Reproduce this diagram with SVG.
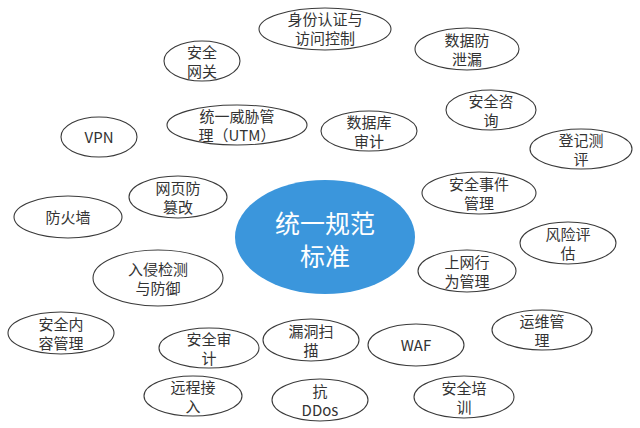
<svg xmlns="http://www.w3.org/2000/svg" width="640" height="428" viewBox="0 0 640 428">
<style>
.n ellipse{fill:#fff;stroke:#3a3a3a;stroke-width:1.1}
.n text{font-family:"Noto Sans CJK SC","Noto Sans",sans-serif;font-size:15px;fill:#333;text-anchor:middle}
.c ellipse{fill:#3b96dc;stroke:none}
.c text{font-family:"Noto Sans CJK SC","Noto Sans",sans-serif;font-size:25px;fill:#fff;text-anchor:middle}
</style>
<rect width="640" height="428" fill="#fff"/>
<g id="connectors"></g>
<g id="center" class="c"><ellipse cx="325" cy="237" rx="90" ry="57"/><text x="325" y="233">统一规范</text><text x="325" y="266">标准</text></g>
<g id="n1" class="n"><ellipse cx="325" cy="29" rx="66" ry="21"/><text x="325" y="25">身份认证与</text><text x="325" y="44">访问控制</text></g>
<g id="n2" class="n"><ellipse cx="202" cy="61" rx="38" ry="20"/><text x="202" y="58">安全</text><text x="202" y="77">网关</text></g>
<g id="n3" class="n"><ellipse cx="467" cy="49" rx="52" ry="21"/><text x="467" y="46">数据防</text><text x="467" y="65">泄漏</text></g>
<g id="n4" class="n"><ellipse cx="237" cy="125" rx="70" ry="20"/><text x="237" y="122">统一威胁管</text><text x="237" y="141">理（UTM）</text></g>
<g id="n5" class="n"><ellipse cx="99" cy="137" rx="38" ry="20"/><text x="99" y="143">VPN</text></g>
<g id="n6" class="n"><ellipse cx="491" cy="110" rx="45" ry="20"/><text x="491" y="107">安全咨</text><text x="491" y="126">询</text></g>
<g id="n7" class="n"><ellipse cx="369" cy="131" rx="48" ry="20"/><text x="369" y="128">数据库</text><text x="369" y="147">审计</text></g>
<g id="n8" class="n"><ellipse cx="581" cy="149" rx="51" ry="20"/><text x="581" y="146">登记测</text><text x="581" y="165">评</text></g>
<g id="n9" class="n"><ellipse cx="178" cy="197" rx="49" ry="21"/><text x="178" y="194">网页防</text><text x="178" y="213">篡改</text></g>
<g id="n10" class="n"><ellipse cx="479" cy="193" rx="57" ry="21"/><text x="479" y="190">安全事件</text><text x="479" y="209">管理</text></g>
<g id="n11" class="n"><ellipse cx="68" cy="217" rx="54" ry="21"/><text x="68" y="223">防火墙</text></g>
<g id="n12" class="n"><ellipse cx="568" cy="243" rx="48" ry="21"/><text x="568" y="240">风险评</text><text x="568" y="259">估</text></g>
<g id="n13" class="n"><ellipse cx="158" cy="278" rx="65" ry="28"/><text x="158" y="275">入侵检测</text><text x="158" y="294">与防御</text></g>
<g id="n14" class="n"><ellipse cx="467" cy="271" rx="49" ry="21"/><text x="467" y="268">上网行</text><text x="467" y="287">为管理</text></g>
<g id="n15" class="n"><ellipse cx="61" cy="333" rx="53" ry="21"/><text x="61" y="330">安全内</text><text x="61" y="349">容管理</text></g>
<g id="n16" class="n"><ellipse cx="542" cy="330" rx="50" ry="20"/><text x="542" y="327">运维管</text><text x="542" y="346">理</text></g>
<g id="n17" class="n"><ellipse cx="209" cy="348" rx="50" ry="20"/><text x="209" y="345">安全审</text><text x="209" y="364">计</text></g>
<g id="n18" class="n"><ellipse cx="311" cy="340" rx="48" ry="21"/><text x="311" y="337">漏洞扫</text><text x="311" y="356">描</text></g>
<g id="n19" class="n"><ellipse cx="416" cy="345" rx="48" ry="21"/><text x="416" y="351">WAF</text></g>
<g id="n20" class="n"><ellipse cx="193" cy="396" rx="49" ry="20"/><text x="193" y="393">远程接</text><text x="193" y="412">入</text></g>
<g id="n21" class="n"><ellipse cx="320" cy="400" rx="48" ry="21"/><text x="320" y="397">抗</text><text x="320" y="416">DDos</text></g>
<g id="n22" class="n"><ellipse cx="464" cy="397" rx="50" ry="21"/><text x="464" y="394">安全培</text><text x="464" y="413">训</text></g>
</svg>
